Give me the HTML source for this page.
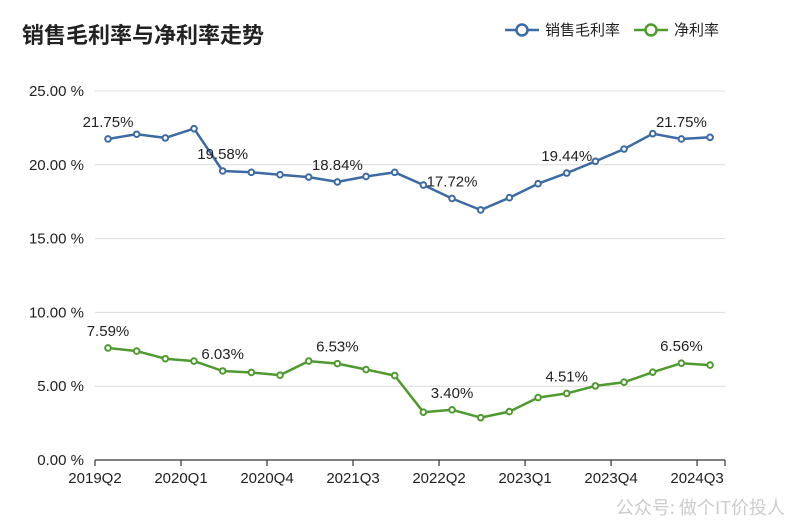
<!DOCTYPE html>
<html><head><meta charset="utf-8"><style>
html,body{margin:0;padding:0;background:#fff;}
svg{display:block;font-family:"Liberation Sans","Noto Sans CJK SC",sans-serif;}
</style></head><body>
<svg width="800" height="532" viewBox="0 0 800 532">
<text x="22" y="43" font-size="22" font-weight="bold" fill="#222" font-family="'Noto Sans CJK SC',sans-serif">销售毛利率与净利率走势</text>
<g>
 <g>
  <line x1="505" y1="30" x2="539" y2="30" stroke="#3c6aa5" stroke-width="2.5"/>
  <circle cx="522" cy="30" r="5.5" fill="#fff" stroke="#3c6aa5" stroke-width="2.5"/>
  <text x="545" y="35" font-size="15" fill="#222" font-family="'Noto Sans CJK SC',sans-serif">销售毛利率</text>
 </g>
 <g>
  <line x1="634" y1="30" x2="668" y2="30" stroke="#4e9a2f" stroke-width="2.5"/>
  <circle cx="651" cy="30" r="5.5" fill="#fff" stroke="#4e9a2f" stroke-width="2.5"/>
  <text x="674" y="35" font-size="15" fill="#222" font-family="'Noto Sans CJK SC',sans-serif">净利率</text>
 </g>
</g>
<g id="grid"></g>
<g id="axis"></g>
<g id="series"></g>
<text x="785" y="514" font-size="18" fill="#cccccc" text-anchor="end" font-family="'Noto Sans CJK SC',sans-serif">公众号: 做个IT价投人</text>
</svg>
<script>
const categories=["2019Q2","2019Q3","2019Q4","2020Q1","2020Q2","2020Q3","2020Q4","2021Q1","2021Q2","2021Q3","2021Q4","2022Q1","2022Q2","2022Q3","2022Q4","2023Q1","2023Q2","2023Q3","2023Q4","2024Q1","2024Q2","2024Q3"];
const grossMargin=[21.75,22.07,21.82,22.45,19.58,19.49,19.33,19.17,18.84,19.21,19.49,18.63,17.72,16.94,17.77,18.72,19.44,20.24,21.07,22.11,21.75,21.86];
const netMargin=[7.59,7.38,6.86,6.70,6.03,5.93,5.75,6.70,6.53,6.13,5.72,3.24,3.40,2.87,3.28,4.23,4.51,5.02,5.27,5.95,6.56,6.43];
const yTicks=[0,5,10,15,20,25];
const xTickLabels=["2019Q2","2020Q1","2020Q4","2021Q3","2022Q2","2023Q1","2023Q4","2024Q3"];
const labelEvery=4;
const NS="http://www.w3.org/2000/svg";
const X0=95,X1=725,Y0=460,Y25=91;
const step=28.67, firstX=108;
function xs(i){return firstX+step*i;}
function ys(v){return Y0-(Y0-Y25)*v/25;}
function mk(tag,attrs,parent){const e=document.createElementNS(NS,tag);for(const k in attrs)e.setAttribute(k,attrs[k]);parent.appendChild(e);return e;}
const grid=document.getElementById('grid'),axis=document.getElementById('axis'),series=document.getElementById('series');
yTicks.forEach(t=>{
 if(t>0){const l=mk('line',{x1:X0,x2:X1,y1:ys(t),y2:ys(t),stroke:'#dcdcdc','stroke-width':1},grid);
 
 }
 const tx=mk('text',{x:84,y:ys(t)+5,'font-size':15,fill:'#222','text-anchor':'end'},grid);
 tx.textContent=t.toFixed(2)+' %';
 
 
});
const ax=mk('line',{x1:X0,x2:X1,y1:Y0,y2:Y0,stroke:'#333','stroke-width':1.2},axis);


xTickLabels.forEach((lab,k)=>{
 const x=X0+step*3*k;
 mk('line',{x1:x,x2:x,y1:Y0,y2:Y0+6,stroke:'#333','stroke-width':1.2},axis);
 const t=mk('text',{x:x,y:Y0+23,'font-size':15,fill:'#222','text-anchor':'middle'},axis);
 t.textContent=lab;
 
 
});
mk('line',{x1:X1,x2:X1,y1:Y0,y2:Y0+6,stroke:'#333','stroke-width':1.2},axis);
function draw(vals,color,name){
 const g=mk('g',{},series);
 
 
 const d=vals.map((v,i)=>(i?'L':'M')+xs(i).toFixed(1)+' '+ys(v).toFixed(1)).join(' ');
 const p=mk('path',{d:d,fill:'none',stroke:color,'stroke-width':2.5,'stroke-linejoin':'round'},g);
 
 
 vals.forEach((v,i)=>{
  const c=mk('circle',{cx:xs(i),cy:ys(v),r:2.8,fill:'#fff',stroke:color,'stroke-width':2},g);
  
  
  if(i%labelEvery===0){
   const t=mk('text',{x:xs(i),y:ys(v)-12,'font-size':15,fill:'#222','text-anchor':'middle'},g);
   t.textContent=v.toFixed(2)+'%';
   
   
  }
 });
}
draw(grossMargin,'#3c6aa5','gross-margin');
draw(netMargin,'#4e9a2f','net-margin');
</script>
</body></html>
